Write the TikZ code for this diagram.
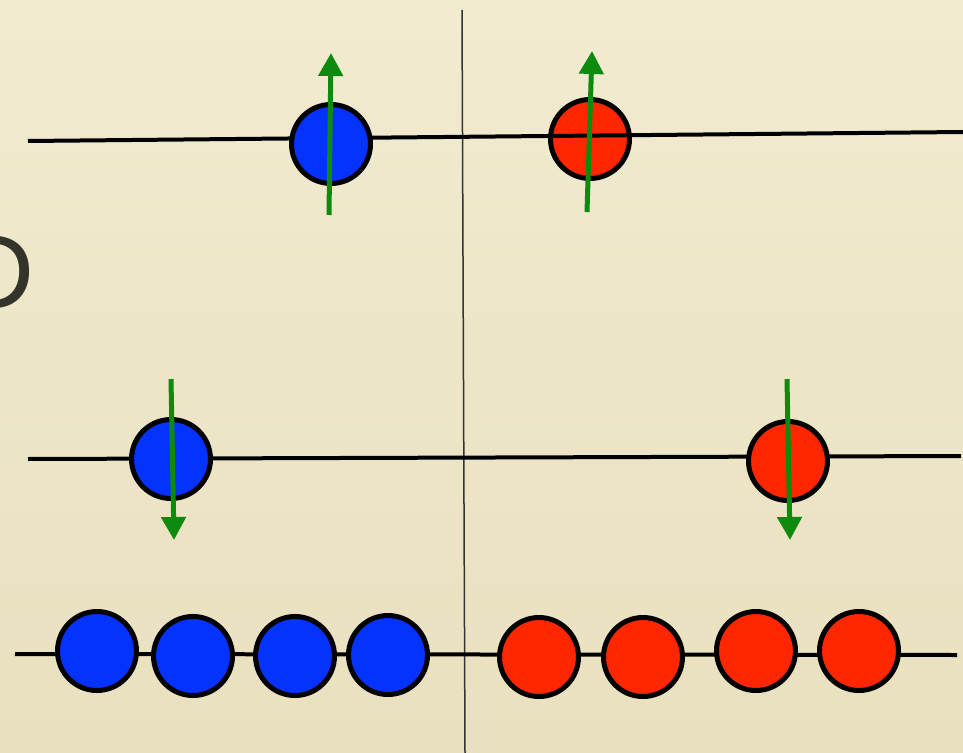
\documentclass[tikz,border=0pt]{standalone}
\usepackage{fontspec}
\newfontfamily\slidefont{Liberation Sans}
\usetikzlibrary{arrows.meta}

\definecolor{paper}{HTML}{F1EBD0}
\definecolor{paperdark}{HTML}{E9E0BF}
\definecolor{ballblue}{HTML}{0433FF}
\definecolor{ballred}{HTML}{FF2600}
\definecolor{spingreen}{HTML}{0E8A0E}
\definecolor{inkgray}{HTML}{34342A}

\begin{document}
\begin{tikzpicture}[
    x=0.02cm, y=-0.02cm,
    ball/.style={circle, draw=black, line width=0.1cm, minimum size=1.58cm,
                 inner sep=0pt},
    blueball/.style={ball, fill=ballblue},
    redball/.style={ball, fill=ballred},
    wire/.style={line width=0.08cm, black},
    spin/.style={-{Triangle[width=0.48cm, length=0.46cm]}, line width=0.1cm,
                 spingreen},
]
\useasboundingbox (0,0) rectangle (963,753);
\clip (0,0) rectangle (963,753);
\shade[top color=paper, bottom color=paperdark] (0,0) rectangle (963,753);

% cut-off slide letter
\node[anchor=base east, inner sep=0pt, text=inkgray,
      font=\slidefont\fontsize{60}{60}\selectfont] (letter) at (35,308) {D};

% divider
\coordinate (divtop) at (462,10);
\coordinate (divbot) at (465,753);
\draw[line width=0.03cm, black!80] (divtop) -- (divbot);

% Top row
\coordinate (topL) at (28,141);
\coordinate (topR) at (963,132);
\node[redball] (topred) at (590,139) {};
\draw[wire] (topL) -- (topR);
\node[blueball] (topblue) at (331,144) {};
\coordinate (upAs) at (329,215);
\coordinate (upAe) at (331,53);
\coordinate (upBs) at (587,212);
\coordinate (upBe) at (592,51);
\draw[spin] (upAs) -- (upAe);
\draw[spin] (upBs) -- (upBe);

% Middle row
\coordinate (midL) at (28,459);
\coordinate (midR) at (961,456);
\draw[wire] (midL) -- (midR);
\node[blueball] (midblue) at (171,459) {};
\node[redball] (midred) at (788,461) {};
\coordinate (downAs) at (171,379);
\coordinate (downAe) at (174,540);
\coordinate (downBs) at (787,379);
\coordinate (downBe) at (790,540);
\draw[spin] (downAs) -- (downAe);
\draw[spin] (downBs) -- (downBe);

% Bottom row
\coordinate (botL) at (15,654);
\coordinate (botR) at (957,655);
\draw[wire] (botL) -- (botR);
\foreach \i/\x/\y in {1/97/651, 2/193/656, 3/295/656, 4/388/655}
    \node[blueball] (chainblue\i) at (\x,\y) {};
\foreach \i/\x/\y in {1/539/657, 2/643/657, 3/756/651, 4/859/651}
    \node[redball] (chainred\i) at (\x,\y) {};

\end{tikzpicture}
\end{document}
